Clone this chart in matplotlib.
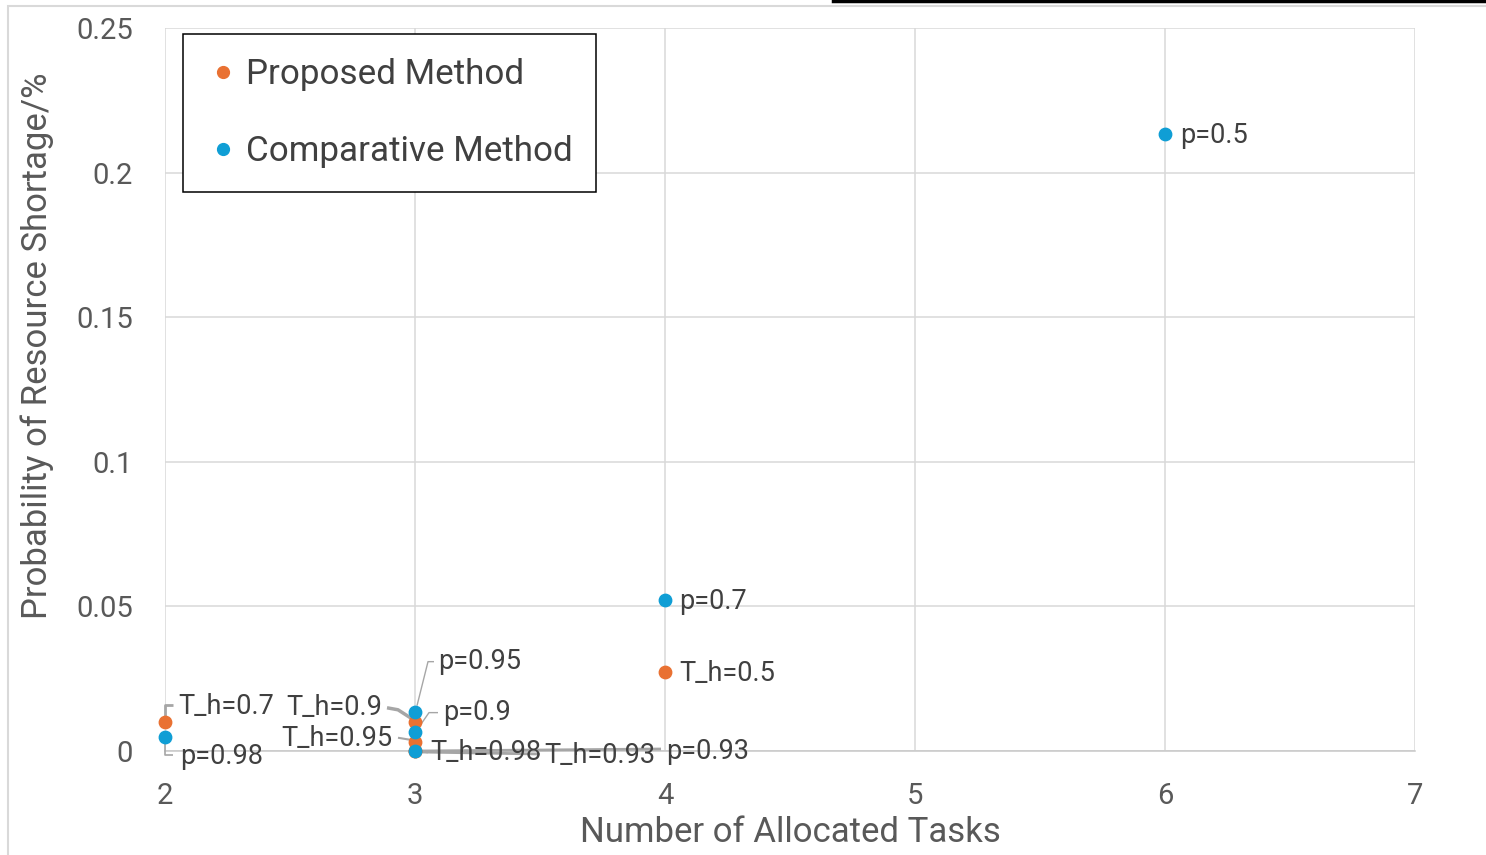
import matplotlib
matplotlib.use("Agg")
import matplotlib.pyplot as plt
from matplotlib.patches import Rectangle
from matplotlib.lines import Line2D
from matplotlib.transforms import IdentityTransform

plt.rcParams["font.family"] = ["Roboto", "DejaVu Sans"]

W, H = 1486, 855

# ---- data ----
prop_x = [4, 2, 3, 3, 3, 3]
prop_y = [0.0273, 0.0099, 0.0101, 0.0, 0.0032, 0.0]
prop_lab = ["T_h=0.5", "T_h=0.7", "T_h=0.9", "T_h=0.93", "T_h=0.95", "T_h=0.98"]
comp_x = [6, 4, 3, 3, 3, 2]
comp_y = [0.2135, 0.0522, 0.0067, 0.0, 0.0136, 0.0047]
comp_lab = ["p=0.5", "p=0.7", "p=0.9", "p=0.93", "p=0.95", "p=0.98"]
xticks = [2, 3, 4, 5, 6, 7]
yticks = [0, 0.05, 0.1, 0.15, 0.2, 0.25]
ytick_labels = ["0", "0.05", "0.1", "0.15", "0.2", "0.25"]

ORANGE, BLUE = "#E97132", "#0F9ED5"
GRID, TXT, LAB = "#d9d9d9", "#595959", "#404040"

# label placement: text offset (px, y down), ha, leader vertices (px offsets from point), leader lw
place = {
    "p=0.5":    (15, 2, "left", None, 1),
    "p=0.7":    (14, 1, "left", None, 1),
    "T_h=0.5":  (14, 1, "left", None, 1),
    "T_h=0.7":  (13, -16, "left", [(0, -6), (0, -17), (8, -17)], 2),
    "p=0.98":   (15, 19, "left", [(0, 6), (0, 18), (8, 18)], 1.2),
    "p=0.95":   (23, -50, "left", [(2, -6), (13, -50), (19, -50)], 1),
    "p=0.9":    (28, -19, "left", [(5, -6), (14, -19), (23, -19)], 1),
    "T_h=0.9":  (-33, -14, "right", [(-28, -14), (-17, -12), (-3, -3)], 2.5),
    "T_h=0.95": (-23, -3, "right", [(-17, -4), (-5, -2)], 1.5),
    "T_h=0.98": (15, 1, "left", [(5, 0), (13, 1)], 2),
    "T_h=0.93": (129, 4, "left", [(5, 1), (125, 3)], 2),
    "p=0.93":   (251, 0, "left", [(5, 0), (246, -2)], 2),
}

fig = plt.figure(figsize=(W / 100, H / 100), dpi=100)
ax = fig.add_axes([165 / W, 1 - 751 / H, (1415 - 165) / W, (751 - 28) / H])
ax.set_xlim(2, 7); ax.set_ylim(0, 0.25)
ax.set_xticks(xticks); ax.set_yticks(yticks)
ax.set_yticklabels(ytick_labels)
ax.grid(color=GRID, lw=1.1, zorder=0)
ax.set_axisbelow(True)
for s in ["top", "left", "right"]:
    ax.spines[s].set_visible(False)
ax.spines["bottom"].set_color("#c8c8c8"); ax.spines["bottom"].set_linewidth(1.1)
ax.tick_params(length=0, labelsize=21, labelcolor=TXT)
ax.tick_params(axis="y", pad=23)
ax.tick_params(axis="x", pad=22)

ax.scatter(prop_x, prop_y, s=80, color=ORANGE, zorder=5, clip_on=False)
ax.scatter(comp_x, comp_y, s=80, color=BLUE, zorder=6, clip_on=False)

for xs, ys, labs in [(prop_x, prop_y, prop_lab), (comp_x, comp_y, comp_lab)]:
    for x, y, lab in zip(xs, ys, labs):
        dx, dy, ha, lead, lw = place[lab]
        ax.annotate(lab, (x, y), xytext=(dx, -dy), textcoords="offset pixels",
                    ha=ha, va="center", fontsize=19.5, color=LAB, zorder=8,
                    annotation_clip=False)
        if lead:
            px, py = ax.transData.transform((x, y))
            ax.plot([px + ox for ox, oy in lead], [py - oy for ox, oy in lead],
                    transform=IdentityTransform(), color="#a6a6a6", lw=lw,
                    zorder=4, clip_on=False, solid_capstyle="butt")

handles = [Line2D([], [], ls="", marker="o", ms=8.5, color=c) for c in (ORANGE, BLUE)]
leg = fig.legend(handles, ["Proposed Method", "Comparative Method"],
                 loc="upper left", bbox_to_anchor=(183 / W, 1 - 34 / H),
                 fontsize=25.2, frameon=True, fancybox=False, edgecolor="black",
                 framealpha=1, borderpad=0.68, labelspacing=1.27,
                 handletextpad=0.16, handlelength=0.95, borderaxespad=0)
leg.get_frame().set_linewidth(1.1)
for t in leg.get_texts():
    t.set_color(LAB)

fig.text(790 / W, 1 - 832 / H, "Number of Allocated Tasks", ha="center",
         va="center", fontsize=25, color=TXT)
fig.text(37 / W, 1 - 346 / H, "Probability of Resource Shortage/%", ha="center",
         va="center", rotation=90, fontsize=25, color=TXT)

# outer chart border and the cropped black edge at the top
fig.add_artist(Rectangle((8 / W, -0.1), 1.2, 1.1 - 6 / H, transform=fig.transFigure,
                         fc="none", ec=GRID, lw=1.5))
fig.add_artist(Line2D([833 / W, 1], [1 - 1.5 / H, 1 - 1.5 / H], transform=fig.transFigure,
                      color="black", lw=2.5))

fig.savefig("out.png", dpi=100)
